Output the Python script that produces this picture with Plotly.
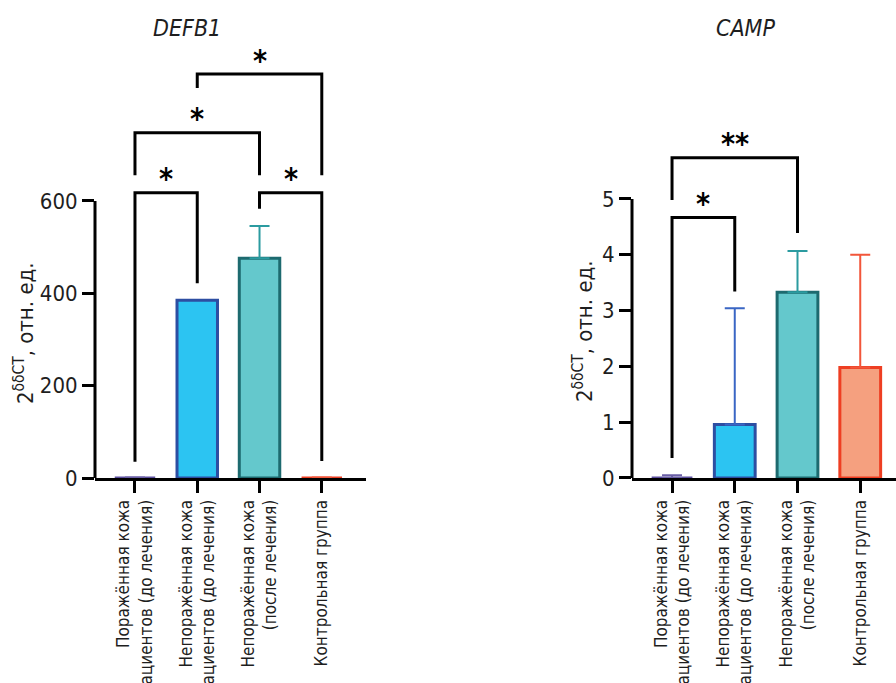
import plotly.graph_objects as go

# ---------------- data ----------------
categories = [
    "Поражённая кожа<br>пациентов (до лечения)",
    "Непоражённая кожа<br>пациентов (до лечения)",
    "Непоражённая кожа<br>(после лечения)",
    "Контрольная группа",
]
positions = [0, 1, 2, 3]

defb1_values = [0, 385, 476, 0]
defb1_err = [1, 0, 70, 1]
defb1_ticks = [0, 200, 400, 600]
# (group a, group b, bracket top, left leg bottom, right leg bottom, label)
defb1_brackets = [
    (0, 1, 618, 35, 422, "*"),
    (2, 3, 618, 583, 37, "*"),
    (0, 2, 748, 656, 656, "*"),
    (1, 3, 875, 845, 656, "*"),
]

camp_values = [0, 0.96, 3.33, 1.98]
camp_err = [0.05, 2.08, 0.74, 2.02]
camp_ticks = [0, 1, 2, 3, 4, 5]
camp_brackets = [
    (0, 1, 4.67, 0.36, 3.34, "*"),
    (0, 2, 5.74, 4.98, 4.39, "**"),
]

fills = ["rgba(0,0,0,0)", "#2CC4F2", "#64C8CC", "#F5A07F"]
borders = ["#5B4E9E", "#2D4EA2", "#1D6A6F", "#EE3E22"]
errcols = ["#6A5FA6", "#3A66C4", "#2B9BA0", "#F2563A"]

FONT = "DejaVu Sans Condensed, Liberation Sans Narrow, Arial Narrow, sans-serif"
TXT = "#1e1e1e"

fig = go.Figure()


def add_chart(values, errs, brackets, xa, ya, show_top):
    for i in positions:
        fig.add_trace(go.Bar(
            x=[i], y=[values[i]], width=0.65, xaxis=xa, yaxis=ya,
            marker=dict(color=fills[i], line=dict(color=borders[i], width=3)),
            error_y=dict(type="data", symmetric=False, array=[errs[i]], arrayminus=[0],
                         color=errcols[i], thickness=2, width=10, visible=errs[i] > 0),
            showlegend=False, hoverinfo="skip",
        ))
    for a, b, top, lb, rb, lab in brackets:
        fig.add_trace(go.Scatter(
            x=[a, a, b, b], y=[lb, top, top, rb], mode="lines", xaxis=xa, yaxis=ya,
            line=dict(color="black", width=3), showlegend=False, hoverinfo="skip",
        ))
        fig.add_annotation(x=(a + b) / 2, y=top, xref=xa, yref=ya, text="<b>" + lab + "</b>",
                           showarrow=False, yanchor="middle", yshift=14,
                           font=dict(family=FONT, size=30, color="black"))
    # y axis line, stopping at the top tick
    fig.add_shape(type="line", xref=xa + " domain", yref=ya, x0=0, x1=0, y0=0, y1=show_top,
                  line=dict(color="black", width=3))


add_chart(defb1_values, defb1_err, defb1_brackets, "x", "y", defb1_ticks[-1])
add_chart(camp_values, camp_err, camp_brackets, "x2", "y2", camp_ticks[-1])

axis_common = dict(
    showgrid=False, zeroline=False, ticks="outside", ticklen=12, tickwidth=3,
    tickcolor="black", tickfont=dict(family=FONT, size=22, color=TXT), automargin=False,
)
xaxis_common = dict(
    showgrid=False, zeroline=False, ticks="outside", ticklen=12, tickwidth=3,
    tickcolor="black", showline=True, linewidth=3, linecolor="black",
    tickvals=positions, ticktext=categories, tickangle=-90, automargin=False,
    tickfont=dict(family=FONT, size=17, color=TXT),
)
ytitle = "2<sup>δδCT</sup>, отн. ед."

fig.update_layout(
    template="none",
    width=896, height=683, margin=dict(l=0, r=0, t=0, b=0, autoexpand=False),
    paper_bgcolor="white", plot_bgcolor="white", barmode="overlay",
    font=dict(family=FONT, color=TXT),
    xaxis=dict(domain=[95 / 896, 366 / 896], range=[-0.642, 3.71], anchor="y", **xaxis_common),
    yaxis=dict(domain=[0.30015, 0.94231], range=[0, 950], anchor="x", tickvals=defb1_ticks,
               showline=False, **axis_common),
    xaxis2=dict(domain=[632 / 896, 1.0], range=[-0.638, 3.57], anchor="y2", **xaxis_common),
    yaxis2=dict(domain=[0.30015, 0.83939], range=[0, 6.6], anchor="x2", tickvals=camp_ticks,
                showline=False, **axis_common),
)

# axis titles
for xc, yc in [(24, 333), (583, 331)]:
    fig.add_annotation(x=xc / 896, y=1 - yc / 683, xref="paper", yref="paper", text=ytitle,
                       textangle=-90, showarrow=False, xanchor="center", yanchor="middle",
                       font=dict(family=FONT, size=22, color=TXT))

fig.add_annotation(x=187 / 896, y=1 - 28 / 683, xref="paper", yref="paper", text="<i>DEFB1</i>",
                   showarrow=False, xanchor="center", yanchor="middle",
                   font=dict(family=FONT, size=23, color=TXT))
fig.add_annotation(x=745 / 896, y=1 - 28 / 683, xref="paper", yref="paper", text="<i>CAMP</i>",
                   showarrow=False, xanchor="center", yanchor="middle",
                   font=dict(family=FONT, size=23, color=TXT))

fig.write_html("out.html", config={"displayModeBar": False},
               post_script="document.body.style.margin='0px';")
